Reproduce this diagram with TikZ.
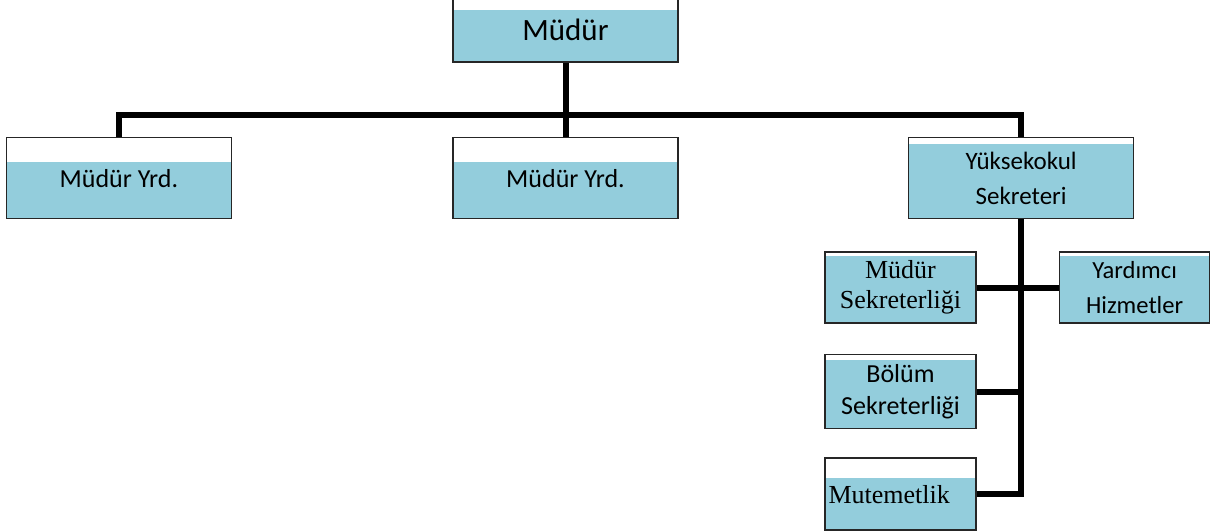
\documentclass[tikz,border=0pt]{standalone}
\usepackage{fontspec}
\setmainfont{Carlito}
\newfontfamily\timesfont{Liberation Serif}
\usepackage{xcolor}
\definecolor{Pale Aqua}{HTML}{93CDDC}
\colorlet{cAqua}{Pale Aqua}
\usepackage{tikz}
\usetikzlibrary{positioning}
\tikzset{
	x = .5pt,
	y = -.5pt,
	font = \fontsize{13}{16}\selectfont,
	office/.style={
		draw=black!85,
		line width=.8pt,
		fill=white,
		inner sep=0pt,
		align=center,
		path picture={
			\fill[cAqua] ([yshift=-#1]path picture bounding box.north west)
				rectangle (path picture bounding box.south east);
		}
	},
	office/.default=2pt,
	wide/.style={
		minimum width=112.5pt,
		minimum height=40.5pt
	},
	small/.style={
		minimum width=75.5pt,
		minimum height=35.5pt
	},
	link/.style={
		line width=3pt
	}
}

\begin{document}
\begin{tikzpicture}
\clip (0,0) rectangle (1224,530);

% ---
% top level
% ---
\node[office=6pt, wide, minimum height=32pt, font=\fontsize{15.5}{18}\selectfont] at (565.5,30) (mud) {Müdür};
\node[office=12pt, wide, below=37pt of mud] (yrd-b) {Müdür Yrd.};
\node[office=12pt, wide, left=110pt of yrd-b] (yrd-a) {Müdür Yrd.};
\node[office=3pt, wide, right=114.5pt of yrd-b, font=\fontsize{12.5}{17.5}\selectfont] (ysek) {Yüksekokul\\Sekreteri};

% ---
% units under the secretary
% ---
\node[office, small, font=\timesfont\fontsize{13}{15}\selectfont] at (900.5,287.5) (msek) {Müdür\\Sekreterliği};
\node[office, small, minimum width=75pt, right=41pt of msek, font=\fontsize{12.3}{17.5}\selectfont] (yhiz) {Yardımcı\\Hizmetler};
\node[office=2.5pt, small, minimum height=37pt, below=15pt of msek] (bsek) {Bölüm\\Sekreterliği};
\node[office=10pt, small, minimum height=36pt, below=14pt of bsek, align=left, text width=72pt, font=\timesfont\fontsize{13}{15}\selectfont] (mutem) {Mutemetlik};

\coordinate (hub) at (565.5,115);

\draw[link] (mud) -- (yrd-b);
\draw[link] (yrd-a.north) |- (hub) -| (ysek.north);
\draw[link] (ysek.south) |- (mutem.east);
\draw[link] (msek.east) -- (yhiz.west);
\draw[link] (bsek.east) -- (bsek.east -| ysek.south);
\end{tikzpicture}
\end{document}
